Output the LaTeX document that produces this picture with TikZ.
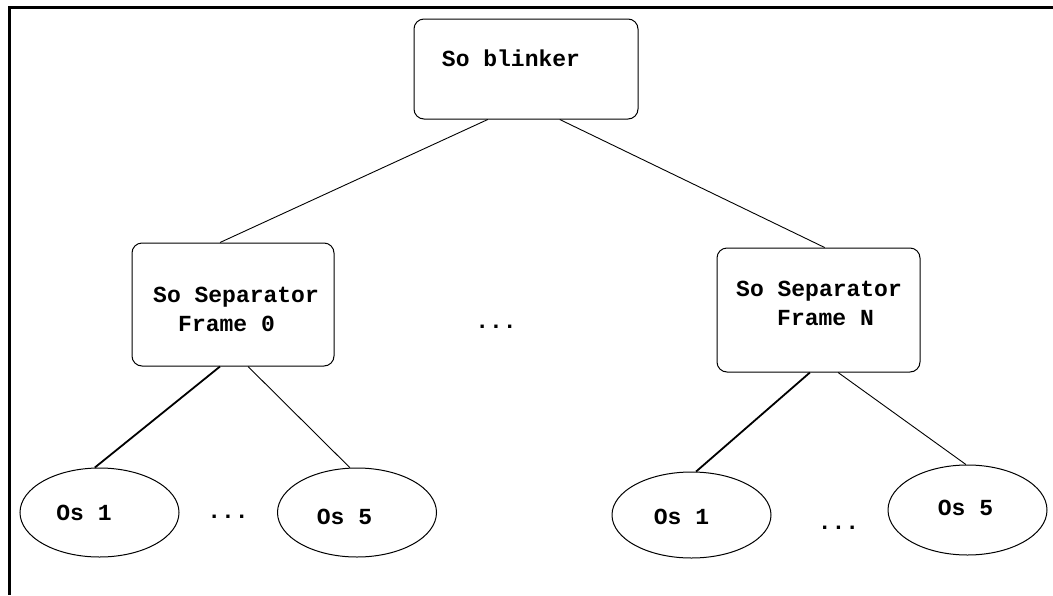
\documentclass[tikz,border=0pt]{standalone}
\usepackage{fontspec}
\newfontfamily\lblfont{Liberation Mono}
\usetikzlibrary{shapes.geometric,calc}
\begin{document}
\begin{tikzpicture}[x=1pt,y=-1pt,
  box/.style={draw, line width=1pt, rounded corners=10pt, inner sep=0pt},
  oval/.style={draw, line width=1pt, ellipse, inner sep=0pt, minimum width=159pt, minimum height=89pt},
  txt/.style={font=\lblfont\bfseries\fontsize{23}{29}\selectfont, inner sep=0pt, align=left},
  link/.style={line width=0.9pt},
  boldlink/.style={line width=1.8pt}]
\useasboundingbox (0,0) rectangle (1053,595);
% frame (top and left edges)
\coordinate (ftl) at (9.5,7.5);
\coordinate (fr) at (1053,7.5);
\coordinate (fb) at (9.5,595);
\draw[line width=3pt] (fr) -- (ftl) -- (fb);
% boxes
\node[box, minimum width=224pt, minimum height=100pt] (blink) at (526,69) {};
\node[txt] (blinkt) at (511,58) {So blinker};
\node[box, minimum width=202pt, minimum height=123pt] (sep0) at (233,304.5) {};
\node[txt, anchor=west] (sep0t) at (153,309.5) {So Separator\\[0pt]\hspace*{25pt}Frame 0};
\node[box, minimum width=203pt, minimum height=124pt] (sepN) at (818.5,310) {};
\node[txt, anchor=west] (sepNt) at (736,303) {So Separator\\[0pt]\hspace*{41pt}Frame N};
\node[txt] (dotsm) at (496,327) {...};
% ovals
\node[oval] (l1) at (99.5,512.5) {};
\node[txt] (l1t) at (84,513) {Os 1};
\node[oval] (l5) at (357,512.5) {};
\node[txt] (l5t) at (344.5,517) {Os 5};
\node[txt] (dotsl) at (228,517) {...};
\node[oval, minimum height=86pt] (r1) at (691.5,515) {};
\node[txt] (r1t) at (681.5,517) {Os 1};
\node[oval, minimum height=90pt] (r5) at (967.5,510) {};
\node[txt] (r5t) at (965.5,508) {Os 5};
\node[txt] (dotsr) at (838.5,528) {...};
% connectors
\coordinate (b1) at ($(blink.south west)!0.33!(blink.south east)$);
\coordinate (b2) at ($(blink.south west)!0.65!(blink.south east)$);
\coordinate (s0top) at ($(sep0.north west)!0.436!(sep0.north east)$);
\coordinate (sNtop) at ($(sepN.north west)!0.53!(sepN.north east)$);
\coordinate (s0a) at ($(sep0.south west)!0.436!(sep0.south east)$);
\coordinate (s0b) at ($(sep0.south west)!0.574!(sep0.south east)$);
\coordinate (sNa) at ($(sepN.south west)!0.458!(sepN.south east)$);
\coordinate (sNb) at ($(sepN.south west)!0.596!(sepN.south east)$);
\draw[link] (b1) -- (s0top);
\draw[link] (b2) -- (sNtop);
\draw[boldlink] (s0a) -- (l1.96);
\draw[link] (s0b) -- (l5.99);
\draw[boldlink] (sNa) -- (r1.84);
\draw[link] (sNb) -- (r5.92);
\end{tikzpicture}
\end{document}
